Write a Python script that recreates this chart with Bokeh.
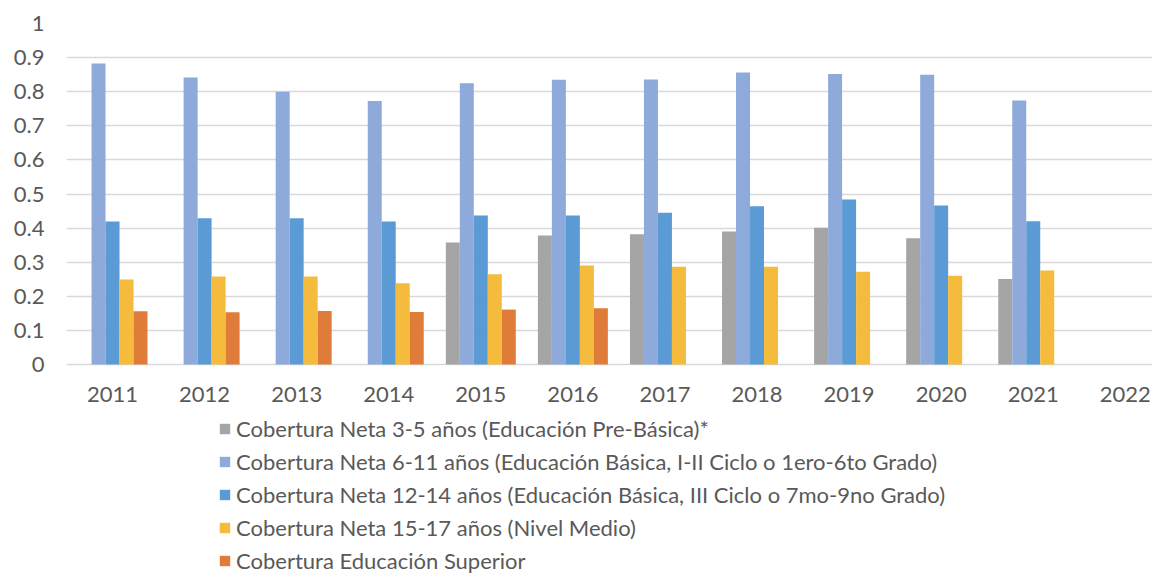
import math
from bokeh.plotting import figure
from bokeh.models import ColumnDataSource, Range1d, FixedTicker, NumeralTickFormatter, Legend, LegendItem
from bokeh.core.properties import value
from bokeh.transform import dodge
from bokeh.embed import file_html
from bokeh.resources import INLINE

NaN = float("nan")
years = [2011, 2012, 2013, 2014, 2015, 2016, 2017, 2018, 2019, 2020, 2021, 2022]
year_labels = [str(y) for y in years]
prebasica = [NaN, NaN, NaN, NaN, 0.358, 0.378, 0.382, 0.390, 0.401, 0.370, 0.251, NaN]
basica_1_6 = [0.883, 0.842, 0.800, 0.773, 0.825, 0.835, 0.836, 0.856, 0.852, 0.850, 0.774, NaN]
basica_7_9 = [0.419, 0.429, 0.429, 0.419, 0.437, 0.437, 0.445, 0.464, 0.484, 0.466, 0.420, NaN]
medio = [0.249, 0.258, 0.258, 0.238, 0.265, 0.290, 0.287, 0.287, 0.272, 0.260, 0.276, NaN]
superior = [0.156, 0.153, 0.157, 0.154, 0.161, 0.165, NaN, NaN, NaN, NaN, NaN, NaN]
y_ticks = [0, 0.1, 0.2, 0.3, 0.4, 0.5, 0.6, 0.7, 0.8, 0.9, 1.0]

series_names = [
    "Cobertura Neta 3-5 años (Educación Pre-Básica)*",
    "Cobertura Neta 6-11 años (Educación Básica, I-II Ciclo o 1ero-6to Grado)",
    "Cobertura Neta 12-14 años (Educación Básica, III Ciclo o 7mo-9no Grado)",
    "Cobertura Neta 15-17 años (Nivel Medio)",
    "Cobertura Educación Superior",
]
colors = ["#a5a5a5", "#8eaadb", "#5b9bd5", "#f4bb3c", "#e07c3a"]

src = ColumnDataSource(dict(x=years, s0=prebasica, s1=basica_1_6, s2=basica_7_9, s3=medio, s4=superior))

FONT = "Lato"
TXT = "#595959"

# layout: frame from TOP to canvas bottom; value 0 at ZERO_PX, value 1 at TOP
W = 1152
H = 574
TOP = 23
ZERO_PX = 364
LEFT = 66
px_per_unit = ZERO_PX - TOP
ymin = -(H - ZERO_PX) / px_per_unit
cat_px = 92.07
x_end = 2010.5 + (W - LEFT) / cat_px

p = figure(width=W, height=H, output_backend="svg", toolbar_location=None,
           x_range=Range1d(2010.5, x_end), y_range=Range1d(ymin, 1.0),
           x_axis_location=None,
           min_border_left=LEFT, min_border_right=0, min_border_top=TOP, min_border_bottom=0)
p.outline_line_color = None
p.background_fill_color = "white"
p.border_fill_color = "white"

bw = 0.152
items = []
for i in range(5):
    r = p.vbar(x=dodge("x", (i - 2) * bw, range=p.x_range), top="s%d" % i, bottom=0, width=bw,
               source=src, fill_color=colors[i], line_color=None)
    items.append(LegendItem(label=series_names[i], renderers=[r]))

# category labels under the zero line
p.text(x=years, y=[0] * len(years), text=year_labels, y_offset=22,
       text_align="center", text_baseline="top", text_font=value(FONT),
       text_font_size="22px", text_color=TXT)

p.xgrid.grid_line_color = None
p.ygrid.grid_line_color = "#d9d9d9"
p.ygrid.grid_line_width = 1.5
p.yaxis.ticker = FixedTicker(ticks=y_ticks)
p.yaxis.formatter = NumeralTickFormatter(format="0.[0]")

ax = p.yaxis[0]
ax.axis_line_color = None
ax.major_tick_line_color = None
ax.minor_tick_line_color = None
ax.major_label_text_font = FONT
ax.major_label_text_font_size = "22px"
ax.major_label_text_color = TXT
ax.major_label_standoff = 16

legend = Legend(items=items, orientation="vertical", location=(152, 0))
legend.label_text_font = FONT
legend.label_text_font_size = "22px"
legend.label_text_color = TXT
legend.glyph_width = 13
legend.glyph_height = 13
legend.label_height = 26
legend.label_standoff = 5
legend.spacing = 6
legend.padding = 0
legend.margin = 0
legend.border_line_color = None
legend.background_fill_alpha = 0
p.add_layout(legend, "center")

open("out.html", "w").write(file_html(p, INLINE))
